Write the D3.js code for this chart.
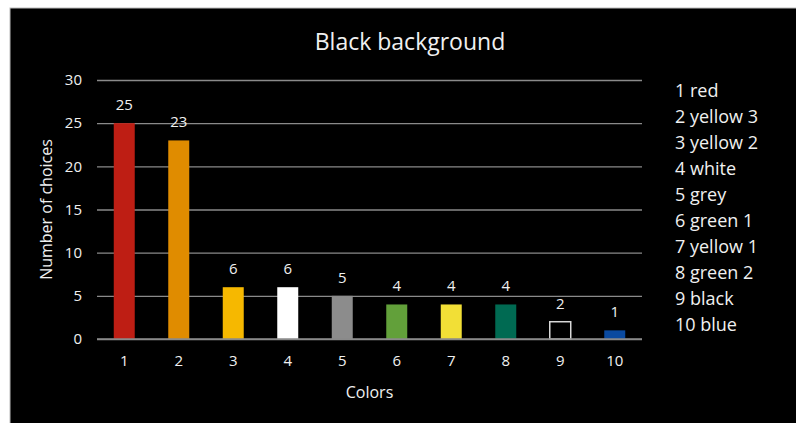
<!DOCTYPE html>
<html>
<head>
<meta charset="utf-8">
<script src="https://cdn.jsdelivr.net/npm/d3@7"></script>
<style>
  body { margin: 0; background: #fff; }
  svg { display: block; font-family: "Open Sans", sans-serif; }
</style>
</head>
<body>
<div id="chart"></div>
<script>
// chart data
const categories = ["1", "2", "3", "4", "5", "6", "7", "8", "9", "10"];
const choices = [25, 23, 6, 6, 5, 4, 4, 4, 2, 1];
const barColors = ["#be1e14", "#e08c00", "#f6b800", "#ffffff", "#8c8c8c",
                   "#62a03a", "#f2df36", "#006a52", "#000000", "#0a4aa0"];
const legendLabels = ["1 red", "2 yellow 3", "3 yellow 2", "4 white", "5 grey",
                      "6 green 1", "7 yellow 1", "8 green 2", "9 black", "10 blue"];
const yTicks = [0, 5, 10, 15, 20, 25, 30];

const width = 796, height = 423;
const margin = {left: 97, right: 154, top: 80, bottom: 84};
const textColor = '#f0f0f0';

const svg = d3.select('#chart')
    .append('svg')
    .attr('width', width)
    .attr('height', height);

// black panel, running off the right and bottom edges
svg.append('rect')
    .attr('x', 10).attr('y', 8)
    .attr('width', width).attr('height', height)
    .attr('fill', '#000')
    .attr('stroke', '#bbb')
    .attr('stroke-width', 1);

const x = d3.scaleBand()
    .domain(categories)
    .range([margin.left, width - margin.right])
    .paddingInner(0.615)
    .paddingOuter(0.3075);

const y = d3.scaleLinear()
    .domain([0, 30])
    .range([height - margin.bottom, margin.top]);

// gridlines
svg.append('g')
    .attr('transform', `translate(${margin.left},0)`)
    .call(d3.axisLeft(y).tickValues(yTicks).tickSize(-(width - margin.right - margin.left)).tickFormat(''))
    .call(g => g.select('.domain').remove())
    .call(g => g.selectAll('line').attr('stroke', '#8a8a8a').attr('stroke-width', 1.3));

// y tick labels
svg.append('g')
    .attr('transform', `translate(${margin.left},0)`)
    .call(d3.axisLeft(y).tickValues(yTicks).tickSize(0).tickPadding(15))
    .call(g => g.select('.domain').remove())
    .call(g => g.selectAll('text')
        .attr('fill', textColor)
        .style('font-size', '15px')
        .style('font-family', '"Open Sans", sans-serif'));

// bars
svg.append('g')
    .selectAll('rect')
    .data(choices)
    .join('rect')
    .attr('x', (d, i) => x(categories[i]))
    .attr('y', d => y(d))
    .attr('width', x.bandwidth())
    .attr('height', d => y(0) - y(d))
    .attr('fill', (d, i) => barColors[i])
    .attr('stroke', (d, i) => i === 8 ? '#d8d8d8' : 'none')
    .attr('stroke-width', 1.5);

// x axis line on top of bars
svg.append('line')
    .attr('x1', margin.left).attr('x2', width - margin.right)
    .attr('y1', y(0)).attr('y2', y(0))
    .attr('stroke', '#8a8a8a').attr('stroke-width', 1.5);

// value labels
svg.append('g')
    .selectAll('text')
    .data(choices)
    .join('text')
    .attr('x', (d, i) => x(categories[i]) + x.bandwidth() / 2)
    .attr('y', d => y(d) - 13)
    .attr('text-anchor', 'middle')
    .attr('fill', textColor)
    .style('font-size', '15px')
    .text(d => d);

// x tick labels
svg.append('g')
    .attr('transform', `translate(0,${y(0)})`)
    .call(d3.axisBottom(x).tickSize(0).tickPadding(16))
    .call(g => g.select('.domain').remove())
    .call(g => g.selectAll('text')
        .attr('fill', textColor)
        .style('font-size', '15px')
        .style('font-family', '"Open Sans", sans-serif'));

// axis titles
svg.append('text')
    .attr('x', (margin.left + width - margin.right) / 2)
    .attr('y', 398)
    .attr('text-anchor', 'middle')
    .attr('fill', textColor)
    .style('font-size', '16px')
    .text('Colors');

svg.append('text')
    .attr('transform', `translate(52,${(y(0) + y(30)) / 2}) rotate(-90)`)
    .attr('text-anchor', 'middle')
    .attr('fill', textColor)
    .style('font-size', '16px')
    .text('Number of choices');

// title
svg.append('text')
    .attr('x', 410)
    .attr('y', 50)
    .attr('text-anchor', 'middle')
    .attr('fill', textColor)
    .style('font-size', '23px')
    .text('Black background');

// legend
svg.append('g')
    .selectAll('text')
    .data(legendLabels)
    .join('text')
    .attr('x', 675)
    .attr('y', (d, i) => 97 + i * 26)
    .attr('fill', textColor)
    .style('font-size', '18px')
    .text(d => d);
</script>
</body>
</html>
